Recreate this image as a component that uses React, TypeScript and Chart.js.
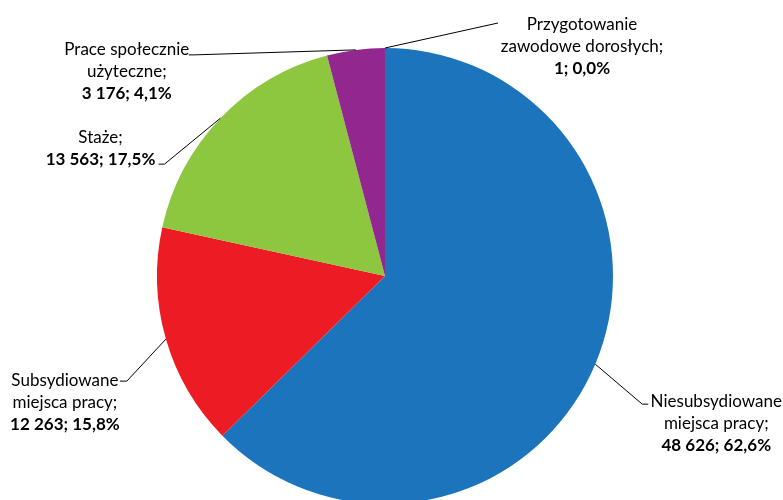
import React, { useEffect, useRef } from "react";
import { Chart, registerables } from "chart.js";

Chart.register(...registerables);

const categories = [
  "Niesubsydiowane miejsca pracy",
  "Subsydiowane miejsca pracy",
  "Staże",
  "Prace społecznie użyteczne",
  "Przygotowanie zawodowe dorosłych",
];
const labelLines = [
  ["Niesubsydiowane", "miejsca pracy;"],
  ["Subsydiowane", "miejsca pracy;"],
  ["Staże;"],
  ["Prace społecznie", "użyteczne;"],
  ["Przygotowanie", "zawodowe dorosłych;"],
];
const values = [48626, 12263, 13563, 3176, 1];
const colors = ["#1C75BC", "#ED1C24", "#8DC63F", "#92278F", "#F7941D"];

// label layout relative to each slice's outer-arc midpoint
const labelLayout = [
  { ex: 47, ey: 40, sx: 53, tx: 121, ty: 37 },
  { ex: -39, ey: 42, sx: -46, tx: -101, ty: 41 },
  { ex: -56, ey: 46, sx: -62, tx: -120, ty: 19 },
  { ex: -162, ey: 5, sx: -167, tx: -229, ty: 0 },
  { ex: 113, ey: -25, sx: 113, tx: 197, ty: -23 },
];

const FONT = "Lato, 'Open Sans', sans-serif";
const LINE_H = 22;

const fmtNum = (v: number) => String(v).replace(/\B(?=(\d{3})+(?!\d))/g, " ");

const labelPlugin = {
  id: "pieLabels",
  afterDraw(chart: any) {
    const ctx = chart.ctx;
    const meta = chart.getDatasetMeta(0);
    const total = values.reduce((a, b) => a + b, 0);
    ctx.save();
    meta.data.forEach((arc: any, i: number) => {
      const { x, y, startAngle, endAngle, outerRadius } = arc.getProps(
        ["x", "y", "startAngle", "endAngle", "outerRadius"],
        true
      );
      const mid = (startAngle + endAngle) / 2;
      const ax = x + Math.cos(mid) * outerRadius;
      const ay = y + Math.sin(mid) * outerRadius;
      const L = labelLayout[i];
      ctx.strokeStyle = "#000";
      ctx.lineWidth = 1;
      ctx.beginPath();
      ctx.moveTo(ax, ay);
      ctx.lineTo(ax + L.ex, ay + L.ey);
      ctx.lineTo(ax + L.sx, ay + L.ey);
      ctx.stroke();
      const lines = labelLines[i];
      const pct = ((values[i] / total) * 100).toFixed(1).replace(".", ",");
      const all = [...lines, `${fmtNum(values[i])}; ${pct}%`];
      ctx.fillStyle = "#000";
      ctx.textAlign = "center";
      ctx.textBaseline = "middle";
      all.forEach((t, k) => {
        const bold = k === all.length - 1;
        ctx.font = `${bold ? "bold " : ""}17px ${FONT}`;
        ctx.fillText(t, ax + L.tx, ay + L.ty + k * LINE_H);
      });
    });
    ctx.restore();
  },
};

export default function App() {
  const ref = useRef<HTMLCanvasElement>(null);
  useEffect(() => {
    if (!ref.current) return;
    const chart = new Chart(ref.current, {
      type: "pie",
      data: {
        labels: categories,
        datasets: [
          {
            data: values,
            backgroundColor: colors,
            borderWidth: 0,
          },
        ],
      },
      options: {
        responsive: false,
        animation: false,
        layout: { padding: { left: 157, right: 170, top: 48, bottom: 16 } },
        plugins: {
          legend: { display: false },
          tooltip: { enabled: false },
        },
      },
      plugins: [labelPlugin],
    });
    return () => chart.destroy();
  }, []);
  return (
    <div
      style={{
        position: "absolute",
        left: 0,
        top: 0,
        width: 783,
        height: 500,
        overflow: "hidden",
        background: "#fff",
      }}
    >
      <canvas ref={ref} width={783} height={520} style={{ display: "block" }} />
    </div>
  );
}
